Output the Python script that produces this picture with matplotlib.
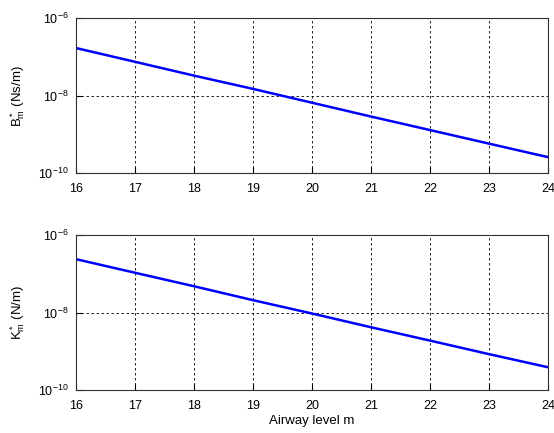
import matplotlib
matplotlib.use("Agg")
import matplotlib.pyplot as plt

plt.rcParams['font.family'] = ['Liberation Sans', 'DejaVu Sans']
plt.rcParams['mathtext.fontset'] = 'custom'
plt.rcParams['mathtext.rm'] = 'Liberation Sans'
plt.rcParams['mathtext.it'] = 'Liberation Sans'

# airway levels and estimated values
levels = [16, 17, 18, 19, 20, 21, 22, 23, 24]
B_m = [1.7e-7, 7.5e-8, 3.3e-8, 1.5e-8, 6.6e-9, 2.9e-9, 1.3e-9, 5.8e-10, 2.6e-10]
K_m = [2.4e-7, 1.07e-7, 4.8e-8, 2.1e-8, 9.5e-9, 4.2e-9, 1.9e-9, 8.5e-10, 3.9e-10]
y_ticks = [1e-10, 1e-8, 1e-6]

fig = plt.figure(figsize=(5.54, 4.33), dpi=100)
ax1 = fig.add_axes([0.137, 0.600, 0.852, 0.358])
ax2 = fig.add_axes([0.137, 0.099, 0.852, 0.358])

for ax, vals, lab in [(ax1, B_m, r'$\mathregular{B^*_m}$ (Ns/m)'),
                      (ax2, K_m, r'$\mathregular{K^*_m}$ (N/m)')]:
    ax.semilogy(levels, vals, color='#0000ff', lw=1.8)
    ax.set_xlim(16, 24)
    ax.set_ylim(1e-10, 1e-6)
    ax.set_yticks(y_ticks)
    ax.minorticks_off()
    ax.set_xticks(levels)
    ax.grid(True, color='black', ls=(0, (3, 3)), lw=0.6)
    ax.tick_params(direction='in', labelsize=9, length=4, pad=5)
    ax.tick_params(axis='x', pad=7)
    ax.set_ylabel(lab, fontsize=9.5, labelpad=8)
    for s in ax.spines.values():
        s.set_linewidth(0.8)
        s.set_color('#303030')

ax2.set_xlabel('Airway level m', fontsize=9.5, labelpad=2)

fig.savefig('out.png', dpi=100)
